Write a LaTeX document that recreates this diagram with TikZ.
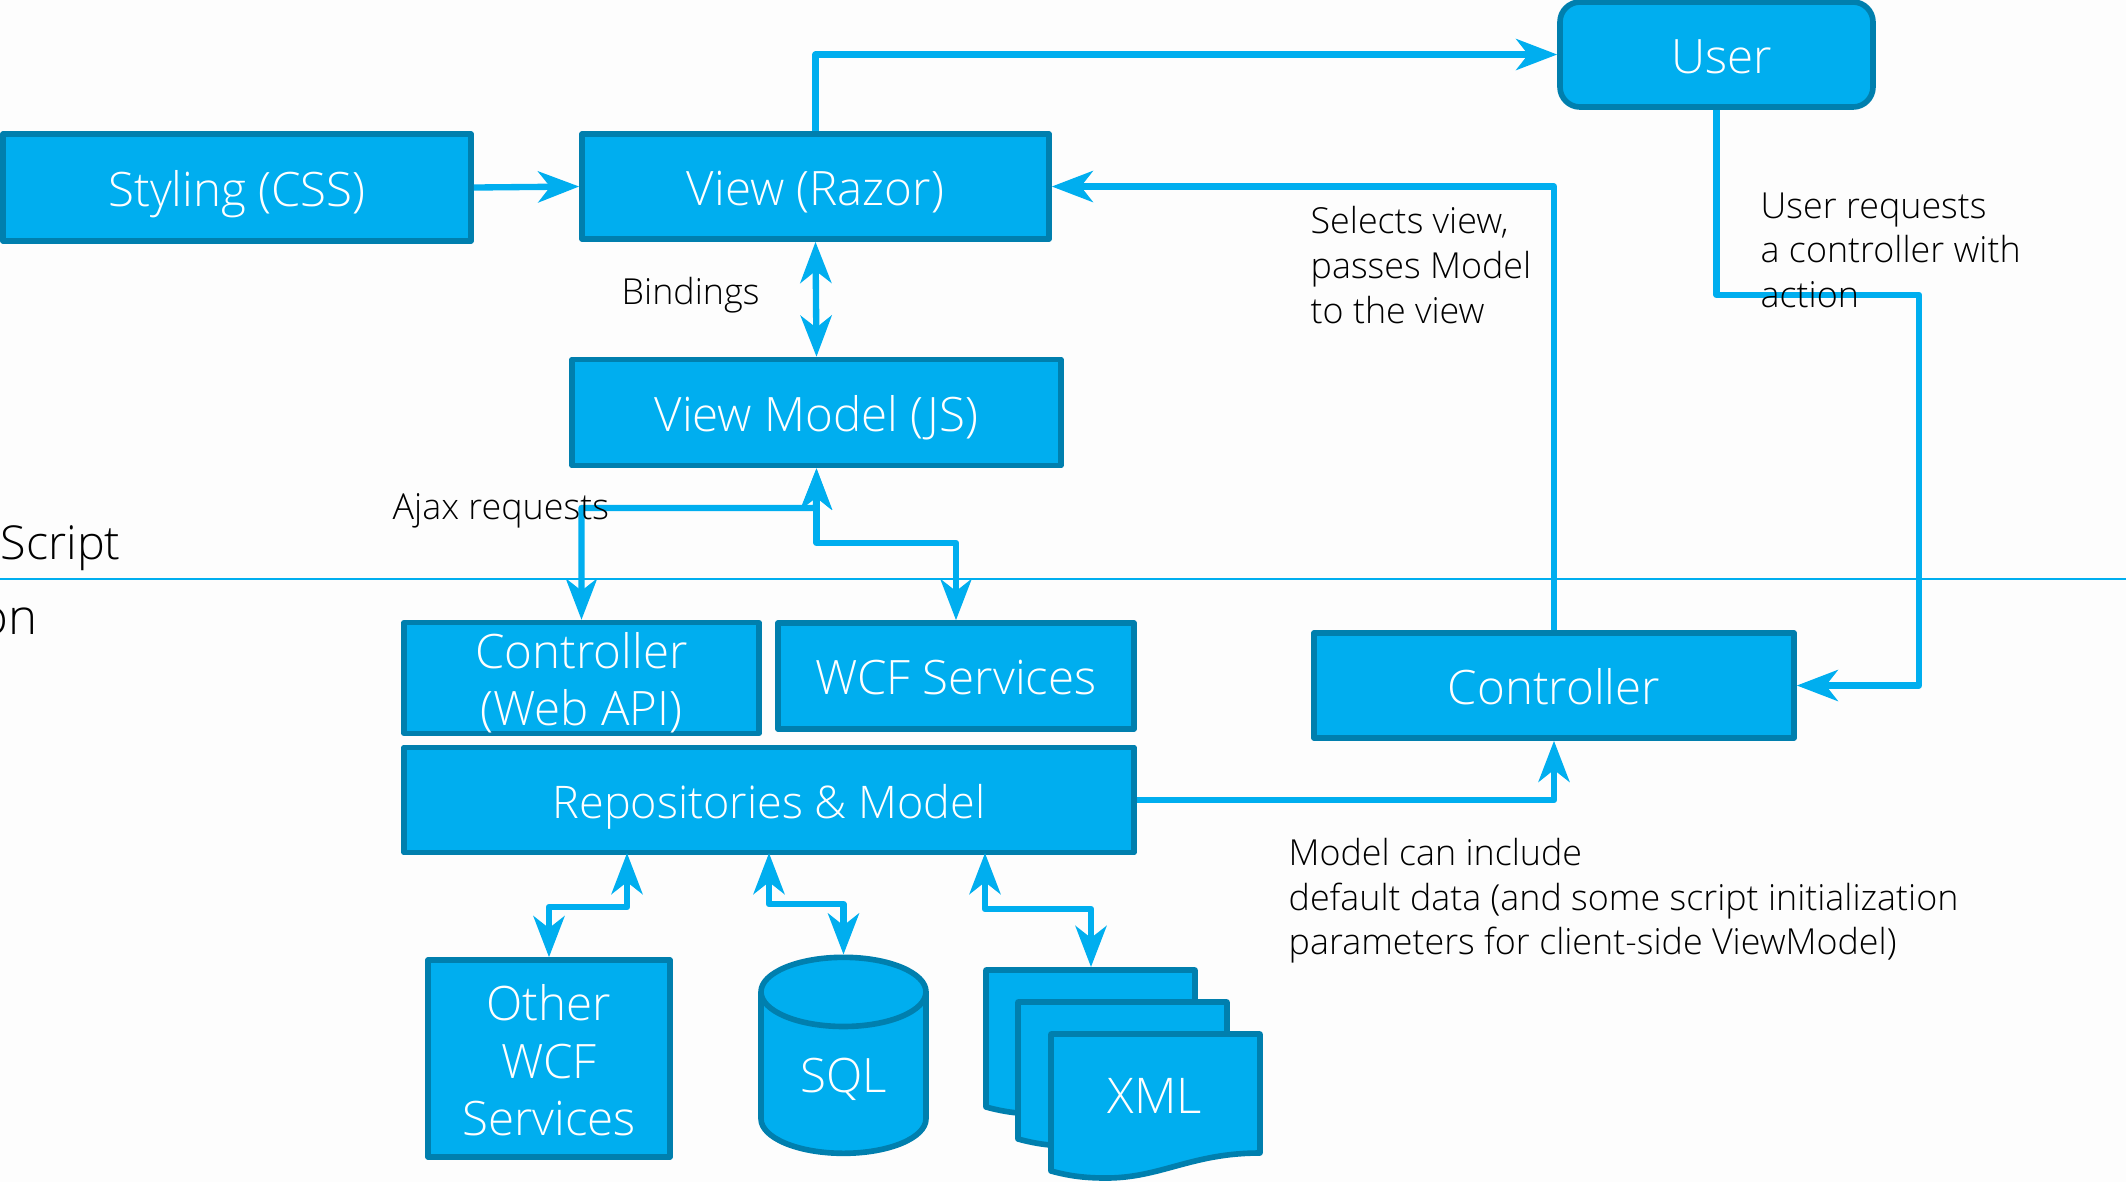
\documentclass[tikz,border=0pt]{standalone}
\usepackage{fontspec}
\setmainfont{Open Sans}[UprightFont=* Light]
\usetikzlibrary{arrows.meta,positioning,shapes.geometric}
\definecolor{boxfill}{HTML}{00AEEF}
\definecolor{boxedge}{HTML}{007FAE}
\definecolor{pagefill}{HTML}{FDFDFD}

\begin{document}
\begin{tikzpicture}[>={Stealth[length=4.1mm,width=3.1mm,inset=1.2mm]},
		blockbox/.style={draw=boxedge,fill=boxfill,line width=1.6pt,line join=round,inner sep=0pt,text=white,align=center,font=\fontsize{13.5}{16.4}\selectfont},
		oneline/.style={blockbox,text height=12pt,text depth=1.4pt},
		linkline/.style={boxfill,line width=1.8pt,line join=round},
		docsheet/.style={draw=boxedge,fill=boxfill,line width=1.6pt,line join=round},
		notetext/.style={anchor=west,align=left,inner sep=0pt,font=\fontsize{10.2}{12.7}\selectfont}]
		\fill[pagefill,use as bounding box] (0,0) rectangle (21.26,-11.82);
		\node[anchor=west,inner sep=0pt,font=\fontsize{13.3}{16}\selectfont] (scripttext) at (0,-5.48) {Script};
		\node[anchor=east,inner sep=0pt,font=\fontsize{14}{16}\selectfont] (ontext) at (0.38,-6.21) {on};
		\coordinate (sepleft) at (0,-5.79);
		\coordinate (sepright) at (21.26,-5.79);
		\draw[boxfill,line width=0.6pt] (sepleft) -- (sepright);
		\node[oneline,minimum width=4.68cm,minimum height=1.07cm] (styling) at (2.37,-1.875) {Styling (CSS)};
		\node[oneline,minimum width=4.67cm,minimum height=1.05cm] (razor) at (8.155,-1.865) {View (Razor)};
		\node[oneline,minimum width=4.89cm,minimum height=1.06cm] (viewmodel) at (8.165,-4.125) {View Model (JS)};
		\node[oneline,rounded corners=0.2cm,minimum width=3.13cm,minimum height=1.05cm] (user) at (17.165,-0.545) {\hspace*{1.08mm}User};
		\node[blockbox,minimum width=3.55cm,minimum height=1.06cm] (webapi) at (5.815,-6.78) {\rule{0pt}{13pt}Controller\\(Web API)};
		\node[oneline,minimum width=3.56cm,minimum height=1.06cm] (wcf) at (9.56,-6.76) {WCF Services};
		\node[oneline,minimum width=7.30cm,minimum height=1.05cm,font=\fontsize{12.8}{16.4}\selectfont] (repo) at (7.69,-8.00) {Repositories \& Model};
		\node[oneline,minimum width=4.80cm,minimum height=1.05cm] (controller) at (15.54,-6.855) {Controller};
		\node[blockbox,minimum width=2.42cm,minimum height=1.97cm] (otherwcf) at (5.49,-10.585) {\rule{0pt}{11.4pt}Other\\WCF\\Services};
		\node[oneline,shape=cylinder,shape border rotate=90,aspect=0.8,minimum height=1.96cm,minimum width=1.65cm] (sql) at (8.435,-10.74) {SQL};
		\foreach \dx/\dy in {9.86/-9.70, 10.18/-10.02, 10.51/-10.34}
			\draw[docsheet,shift={(\dx,\dy)}] (0,0) -- (2.09,0) -- (2.09,-1.19) .. controls (1.4,-1.19) and (1.1,-1.44) .. (0.55,-1.44) .. controls (0.3,-1.44) and (0.15,-1.41) .. (0,-1.37) -- cycle;
		\node[text=white,inner sep=0pt,font=\fontsize{14}{16}\selectfont] (xml) at (11.55,-10.96) {XML};
		\coordinate (xmltop) at (10.91,-9.67);
		\coordinate (repoa) at (6.27,-8.53);
		\coordinate (repob) at (7.69,-8.53);
		\coordinate (repoc) at (9.85,-8.53);
		\coordinate (benda) at (6.27,-9.07);
		\coordinate (bendb) at (7.69,-9.04);
		\coordinate (bendc) at (9.85,-9.09);
		\coordinate (ajaxbend) at (8.16,-5.08);
		\coordinate (wcfbend) at (8.16,-5.43);
		\coordinate (userbend) at (19.19,-2.95);
		\draw[linkline,->] (styling.east) -- (razor.west);
		\draw[linkline,->] (razor.north) |- (user.west);
		\draw[linkline,<->] (razor.south) -- (viewmodel.north);
		\draw[linkline,->] (controller.north) |- (razor.east);
		\draw[linkline,->] (user.south) |- (userbend) |- (controller.east);
		\draw[linkline,->] (repo.east) -| (controller.south);
		\draw[linkline,<->] (webapi.north) |- (ajaxbend) -- (viewmodel.south);
		\draw[linkline,<->] (viewmodel.south) |- (wcfbend -| wcf.north) -- (wcf.north);
		\draw[linkline,<->] (otherwcf.north) |- (benda) -- (repoa);
		\draw[linkline,<->] (sql.north) |- (bendb) -- (repob);
		\draw[linkline,<->] (xmltop) |- (bendc) -- (repoc);
		\node[notetext] (bindings) at (6.21,-2.95) {Bindings};
		\node[notetext] (ajax) at (3.92,-5.11) {Ajax requests};
		\node[notetext] (selects) at (13.10,-2.65) {Selects view,\\passes Model\\to the view};
		\node[notetext] (requests) at (17.60,-2.50) {User requests\\a controller with\\action};
		\node[notetext] (modelnote) at (12.88,-9.01) {Model can include\\default data (and some script initialization\\parameters for client-side ViewModel)};
	\end{tikzpicture}
\end{document}
